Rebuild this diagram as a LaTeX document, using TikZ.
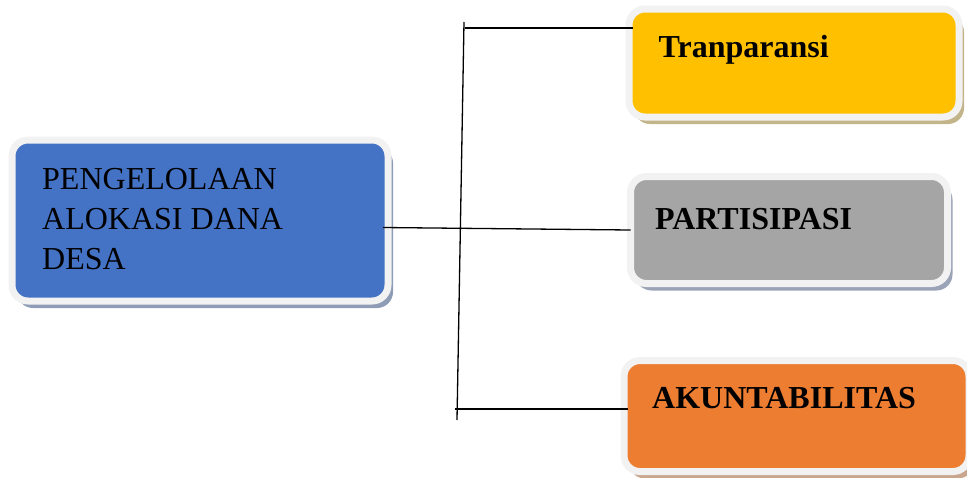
\documentclass[tikz,border=0pt]{standalone}
\usepackage{fontspec}
\setmainfont{Liberation Serif}
\usetikzlibrary{positioning,shadows}
\definecolor{boxrim}{HTML}{F2F2F2}
\definecolor{blueA}{HTML}{4472C4}
\definecolor{yellowA}{HTML}{FFC000}
\definecolor{grayA}{HTML}{A5A5A5}
\definecolor{orangeA}{HTML}{ED7D31}
\definecolor{blueshade}{HTML}{8E9CB6}
\definecolor{yellowshade}{HTML}{C4B48A}
\definecolor{grayshade}{HTML}{9BA3B6}
\definecolor{orangeshade}{HTML}{C9A68E}
\tikzset{
  roundbox/.style={draw=boxrim, line width=7pt, rounded corners=16pt, inner sep=0pt, outer sep=0pt},
  boxtitle/.style={inner sep=0pt, font=\fontsize{32}{40}\selectfont\bfseries},
  boxtext/.style={inner sep=0pt, align=left, font=\fontsize{32}{40}\selectfont},
  link/.style={black, line width=1.3pt}
}

\begin{document}
\begin{tikzpicture}[x=1pt,y=-1pt]
\useasboundingbox (0,0) rectangle (967,477);
% boxes
\node [roundbox, fill=blueA, minimum width=376pt, minimum height=161pt,
  drop shadow={shadow xshift=5pt, shadow yshift=-7pt, fill=blueshade, opacity=1}] (pengelolaan) at (200,220.5) {};
\node [roundbox, fill=yellowA, minimum width=330pt, minimum height=108pt,
  drop shadow={shadow xshift=5pt, shadow yshift=-7pt, fill=yellowshade, opacity=1}] (tranparansi) at (794,63) {};
\node [roundbox, fill=grayA, minimum width=317pt, minimum height=107pt,
  drop shadow={shadow xshift=5pt, shadow yshift=-7pt, fill=grayshade, opacity=1}] (partisipasi) at (789,230) {};
\node [roundbox, fill=orangeA, minimum width=345pt, minimum height=111pt,
  drop shadow={shadow xshift=5pt, shadow yshift=-7pt, fill=orangeshade, opacity=1}] (akuntabilitas) at (796.5,416) {};
% texts
\node [boxtext, anchor=north west, below right=28pt and 30pt of pengelolaan.north west] (pengelolaantext) {PENGELOLAAN\\ALOKASI DANA\\DESA};
\node [boxtitle, anchor=north west, below right=26.5pt and 29.5pt of tranparansi.north west] (tranparansitext) {Tranparansi};
\node [boxtitle, anchor=north west, below right=31.5pt and 24.5pt of partisipasi.north west] (partisipasitext) {PARTISIPASI};
\node [boxtitle, anchor=north west, below right=26.5pt and 28pt of akuntabilitas.north west] (akuntabilitastext) {AKUNTABILITAS};
% connectors
\coordinate (trunktop) at (464,22);
\coordinate (trunkbot) at (457,420);
\coordinate (jtop) at (465,28);
\coordinate (jbot) at (455,409);
\draw [link] (trunktop) -- (trunkbot);
\draw [link] (jtop) -- ([xshift=4pt]jtop -| tranparansi.west);
\draw [link] ([xshift=-5pt,yshift=-7pt]pengelolaan.east) -- (partisipasi.west);
\draw [link] (jbot) -- ([xshift=4pt]jbot -| akuntabilitas.west);
\end{tikzpicture}
\end{document}
